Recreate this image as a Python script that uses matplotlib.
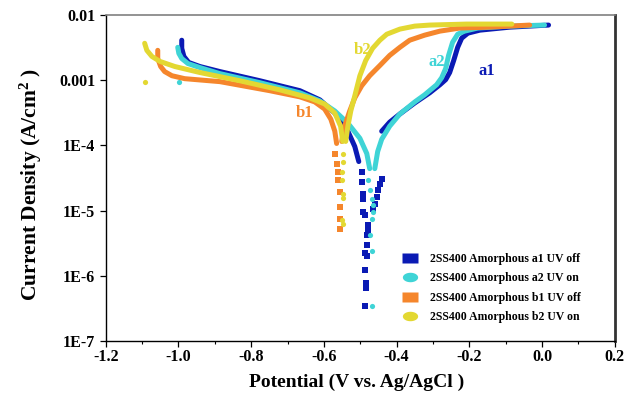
import numpy as np
import matplotlib
matplotlib.use('Agg')
from matplotlib import pyplot as plt
from matplotlib.lines import Line2D
from matplotlib.path import Path
from matplotlib.ticker import MultipleLocator, FixedLocator

plt.rcParams['font.family'] = ['Liberation Serif', 'DejaVu Serif']
plt.rcParams['font.weight'] = 'bold'
plt.rcParams['mathtext.fontset'] = 'custom'
plt.rcParams['mathtext.bf'] = 'Liberation Serif:bold'

# a1: 2SS400 Amorphous a1 UV off (blue)
a1_cat_v = [-0.991, -0.991, -0.985, -0.972, -0.941, -0.886, -0.776, -0.666, -0.611, -0.570, -0.534, -0.515, -0.504]
a1_cat_i = [4.1e-3, 3.08e-3, 2.31e-3, 1.87e-3, 1.62e-3, 1.355e-3, 9.8e-4, 6.9e-4, 4.99e-4, 3.13e-4, 1.65e-4, 9.6e-5, 5.65e-5]
a1_dot_v = [-0.496, -0.496, -0.493, -0.493, -0.493, -0.488, -0.479, -0.479, -0.482, -0.482, -0.488, -0.482, -0.488, -0.485, -0.485, -0.488,
            -0.466, -0.460, -0.455, -0.452, -0.446, -0.441]
a1_dot_i = [3.95e-5, 2.77e-5, 1.8e-5, 1.51e-5, 9.5e-6, 8.5e-6, 5.96e-6, 4.99e-6, 4.17e-6, 2.92e-6, 2.27e-6, 2.04e-6, 1.24e-6, 7.8e-7, 6.5e-7, 3.4e-7,
            1.05e-5, 1.26e-5, 1.62e-5, 2.08e-5, 2.58e-5, 3.08e-5]
a1_ano_v = [-0.441, -0.419, -0.391, -0.350, -0.309, -0.281, -0.265, -0.254, -0.243, -0.232, -0.221, -0.204, -0.171, -0.089, 0.018]
a1_ano_i = [1.65e-4, 2.27e-4, 3.03e-4, 4.48e-4, 6.4e-4, 8.5e-4, 1.02e-3, 1.31e-3, 2.0e-3, 3.19e-3, 4.4e-3, 5.26e-3, 5.85e-3, 6.5e-3, 7.0e-3]

# a2: 2SS400 Amorphous a2 UV on (cyan)
a2_cat_v = [-1.002, -0.999, -0.991, -0.974, -0.941, -0.886, -0.776, -0.666, -0.611, -0.570, -0.534, -0.501, -0.482, -0.474]
a2_cat_i = [3.19e-3, 2.58e-3, 2.15e-3, 1.80e-3, 1.56e-3, 1.26e-3, 9.15e-4, 6.4e-4, 4.81e-4, 3.37e-4, 2.19e-4, 1.285e-4, 7.5e-5, 4.4e-5]
a2_dot_v = [-0.479, -0.474, -0.468, -0.466, -0.466, -0.468, -0.474, -0.468, -0.468, -0.999]
a2_dot_i = [2.97e-5, 2.08e-5, 1.51e-5, 1.22e-5, 9.5e-6, 7.4e-6, 4.17e-6, 2.44e-6, 3.4e-7, 9.5e-4]
a2_ano_v = [-0.460, -0.452, -0.441, -0.419, -0.391, -0.350, -0.323, -0.290, -0.276, -0.265, -0.257, -0.246, -0.232, -0.213, -0.177, -0.089, 0.007]
a2_ano_i = [4.4e-5, 8.07e-5, 1.24e-4, 1.97e-4, 3.03e-4, 4.64e-4, 5.96e-4, 8.5e-4, 1.09e-3, 1.51e-3, 2.4e-3, 3.81e-3, 5.07e-3, 5.65e-3, 6.3e-3, 6.75e-3, 7.0e-3]

# b1: 2SS400 Amorphous b1 UV off (orange)
b1_cat_v = [-1.057, -1.057, -1.049, -1.038, -1.018, -0.983, -0.886, -0.749, -0.666, -0.625, -0.598, -0.581, -0.570, -0.565]
b1_cat_i = [2.87e-3, 2.15e-3, 1.62e-3, 1.355e-3, 1.17e-3, 1.055e-3, 9.5e-4, 6.9e-4, 5.55e-4, 4.64e-4, 3.61e-4, 2.53e-4, 1.65e-4, 1.07e-4]
b1_dot_v = [-0.570, -0.565, -0.562, -0.562, -0.556, -0.556, -0.556, -0.556]
b1_dot_i = [7.25e-5, 5.26e-5, 3.95e-5, 2.97e-5, 1.94e-5, 1.13e-5, 7.4e-6, 5.2e-6]
b1_ano_v = [-0.551, -0.543, -0.529, -0.515, -0.496, -0.474, -0.446, -0.419, -0.391, -0.364, -0.323, -0.281, -0.226, -0.144, -0.034]
b1_ano_i = [1.15e-4, 1.97e-4, 3.37e-4, 5.35e-4, 8.2e-4, 1.17e-3, 1.68e-3, 2.4e-3, 3.19e-3, 4.1e-3, 4.9e-3, 5.65e-3, 6.3e-3, 6.5e-3, 7.0e-3]

# b2: 2SS400 Amorphous b2 UV on (yellow)
b2_cat_v = [-1.093, -1.087, -1.073, -1.051, -1.010, -0.941, -0.831, -0.721, -0.639, -0.598, -0.570, -0.554, -0.548]
b2_cat_i = [3.68e-3, 2.87e-3, 2.31e-3, 1.94e-3, 1.62e-3, 1.31e-3, 9.8e-4, 7.1e-4, 5.35e-4, 4.32e-4, 3.13e-4, 1.97e-4, 1.15e-4]
b2_dot_v = [-0.548, -0.548, -0.551, -0.551, -0.548, -0.548, -0.551, -0.548, -1.093]
b2_dot_i = [7.25e-5, 5.65e-5, 3.95e-5, 2.97e-5, 1.8e-5, 1.56e-5, 7.1e-6, 6.2e-6, 9.5e-4]
b2_ano_v = [-0.540, -0.534, -0.526, -0.515, -0.501, -0.485, -0.466, -0.446, -0.427, -0.391, -0.350, -0.309, -0.207, -0.083]
b2_ano_i = [1.15e-4, 1.97e-4, 3.37e-4, 5.75e-4, 1.17e-3, 2.0e-3, 3.08e-3, 4.1e-3, 5.07e-3, 6.07e-3, 6.75e-3, 7.0e-3, 7.25e-3, 7.25e-3]

names = ['2SS400 Amorphous a1 UV off', '2SS400 Amorphous a2 UV on',
         '2SS400 Amorphous b1 UV off', '2SS400 Amorphous b2 UV on']
short = ['a1', 'a2', 'b1', 'b2']
clrs = ['#0a1ab4', '#3fd4d6', '#f5862c', '#e3d832']
mrks = ['s', 'o', 's', 'o']
lbl_v = [-0.152, -0.290, -0.653, -0.493]
lbl_i = [1.40e-3, 1.87e-3, 3.13e-4, 2.87e-3]

curves = [
    (a1_cat_v, a1_cat_i, a1_dot_v, a1_dot_i, a1_ano_v, a1_ano_i),
    (a2_cat_v, a2_cat_i, a2_dot_v, a2_dot_i, a2_ano_v, a2_ano_i),
    (b1_cat_v, b1_cat_i, b1_dot_v, b1_dot_i, b1_ano_v, b1_ano_i),
    (b2_cat_v, b2_cat_i, b2_dot_v, b2_dot_i, b2_ano_v, b2_ano_i),
]

# wide legend markers (rectangle / ellipse)
tt = np.linspace(0, 2*np.pi, 40)
ell = Path(np.column_stack([np.cos(tt), 0.62*np.sin(tt)]), closed=True)
rect = Path([[-1, -0.62], [1, -0.62], [1, 0.62], [-1, 0.62], [-1, -0.62]], closed=True)
leg_mrk = [rect, ell, rect, ell]

fig = plt.figure(figsize=(6.41, 3.94), dpi=100)
ax = fig.add_axes([0.165, 0.1345, 0.794, 0.8275])

for kk, (cv, ci, dv, di, av, ai) in enumerate(curves):
    ax.plot(cv, ci, '-', color=clrs[kk], lw=3.6, solid_capstyle='round', zorder=2+kk)
    ax.plot(av, ai, '-', color=clrs[kk], lw=3.6, solid_capstyle='round', zorder=2+kk)
    ax.scatter(dv, di, marker=mrks[kk], s=14, color=clrs[kk], lw=0, zorder=2+kk)
    ax.text(lbl_v[kk], lbl_i[kk], short[kk], color=clrs[kk], size=12,
            weight='bold', ha='center', va='center')

# Axes
ax.set_yscale('log')
ax.set_xlim(-1.2, 0.2)
ax.set_ylim(1e-7, 1e-2)
ax.xaxis.set_major_locator(MultipleLocator(0.2))
ax.xaxis.set_minor_locator(MultipleLocator(0.1))
ax.yaxis.set_major_locator(FixedLocator([1e-7, 1e-6, 1e-5, 1e-4, 1e-3, 1e-2]))
ax.yaxis.set_minor_locator(FixedLocator([]))
ax.xaxis.set_major_formatter(plt.FuncFormatter(lambda x, p: '{:.1f}'.format(x).replace('-0.0', '0.0')))
ylbls = {1e-7: '1E-7', 1e-6: '1E-6', 1e-5: '1E-5', 1e-4: '1E-4', 1e-3: '0.001', 1e-2: '0.01'}
ax.yaxis.set_major_formatter(plt.FuncFormatter(lambda y, p: ylbls.get(float('{:.0e}'.format(y)), '')))
ax.tick_params(axis='both', which='major', labelsize=11.5, direction='out', length=4, width=0.9)
ax.tick_params(axis='x', which='major', pad=1.5)
ax.tick_params(axis='x', which='minor', direction='out', length=2, width=0.8)
for t in ax.get_xticklabels() + ax.get_yticklabels():
    t.set_fontweight('bold')

ax.spines['left'].set_linewidth(1.0)
ax.spines['bottom'].set_linewidth(1.0)
ax.spines['top'].set_color('#808080')
ax.spines['top'].set_linewidth(1.2)
ax.spines['right'].set_color('#333333')
ax.spines['right'].set_linewidth(2.0)

ax.set_xlabel('Potential (V vs. Ag/AgCl )', size=14, weight='bold')
ax.xaxis.set_label_coords(0.493, -0.10)
ax.set_ylabel('Current Density (A/cm$\\mathbf{^2}$ )', size=15.5, weight='bold')
ax.yaxis.set_label_coords(-0.122, 0.48)

# Legend
handles = [Line2D([], [], ls='none', marker=leg_mrk[kk], ms=11,
                  mfc=clrs[kk], mec='none') for kk in range(4)]
leg = ax.legend(handles, names, loc='upper left', bbox_to_anchor=(0.566, 0.284),
                frameon=False, prop={'size': 8.5, 'weight': 'bold'},
                handletextpad=0.63, labelspacing=0.62, borderaxespad=0.)

fig.savefig('out.png', dpi=100)
plt.close()
